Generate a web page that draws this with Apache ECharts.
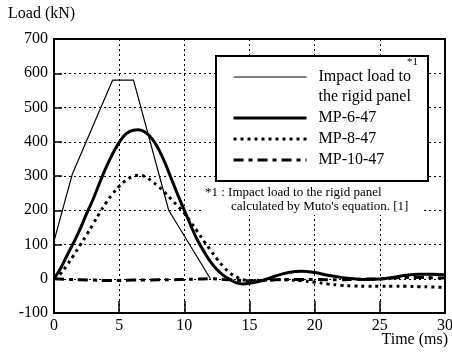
<!DOCTYPE html>
<html>
<head>
<meta charset="utf-8">
<script src="https://cdn.jsdelivr.net/npm/echarts@6/dist/echarts.min.js"></script>
<style>
  html, body { margin: 0; padding: 0; background: #fff; }
  #chart { width: 452px; height: 352px; }
</style>
</head>
<body>
<div id="chart"></div>
<script>
const FONT = '"Liberation Serif", "DejaVu Serif", serif';

// impact load to the rigid panel (Muto's equation), piecewise linear
const impactT = [0, 1.4, 4.5, 6.1, 8.8, 12.0];
const impactLoad = [110, 305, 580, 580, 200, 0];

const timeFine = [0, 0.5, 1, 1.5, 2, 2.5, 3, 3.5, 4, 4.5, 5, 5.5, 6, 6.5, 7, 7.5, 8, 8.5, 9, 9.5,
  10, 10.5, 11, 11.5, 12, 12.5, 13, 13.5, 14, 14.5, 15, 16, 17, 18, 19, 20, 21, 22, 23, 24, 25,
  26, 27, 28, 29, 30];
const mp6 = [0, 30, 68, 105, 145, 190, 232, 280, 325, 365, 398, 422, 433, 435, 428, 410, 380, 340,
  292, 245, 200, 155, 113, 80, 50, 27, 10, -2, -12, -15, -13, -5, 8, 18, 22, 18, 10, 4, 0, -2, -1,
  4, 10, 13, 13, 12];
const mp8 = [0, 15, 40, 68, 98, 128, 160, 192, 222, 248, 270, 287, 298, 302, 298, 285, 270, 252,
  232, 212, 192, 165, 138, 110, 84, 58, 35, 17, 5, -3, -5, -4, -3, -4, -6, -10, -15, -19, -21, -22,
  -22, -22, -22, -23, -24, -25];

const timeCoarse = [0, 1, 2, 3, 4, 5, 6, 7, 8, 9, 10, 11, 12, 13, 14, 15, 16, 17, 18, 19, 20,
  21, 22, 23, 24, 25, 26, 27, 28, 29, 30];
const mp10 = [0, -2, -3, -4, -5, -5, -4, -4, -3, -3, -2, -1, 0, -2, -4, -6, -5, -3, -2, -2, -2,
  -3, -3, -2, -1, 0, 2, 4, 4, 3, 2];

const names = ['Impact load to\nthe rigid panel', 'MP-6-47', 'MP-8-47', 'MP-10-47'];

const pairs = (xs, ys) => xs.map((x, i) => [x, ys[i]]);

const chart = echarts.init(document.getElementById('chart'));

chart.setOption({
  animation: false,
  textStyle: { fontFamily: FONT },
  grid: {
    left: 54, right: 7, top: 39, bottom: 39,
    containLabel: false, outerBoundsMode: 'none',
    show: true, borderColor: '#000', borderWidth: 2, backgroundColor: 'transparent'
  },
  xAxis: {
    type: 'value', min: 0, max: 30, interval: 5,
    axisLine: { onZero: false, lineStyle: { color: '#000', width: 2 } },
    axisTick: { inside: true, length: 12, lineStyle: { color: '#000', width: 1.5 } },
    axisLabel: { color: '#000', fontFamily: FONT, fontSize: 16, margin: 5 },
    splitLine: { show: true, lineStyle: { color: '#000', width: 1, type: [2, 3] } }
  },
  yAxis: {
    type: 'value', min: -100, max: 700, interval: 100,
    name: 'Load (kN)', nameLocation: 'end', nameGap: 17,
    nameTextStyle: { color: '#000', fontFamily: FONT, fontSize: 16, align: 'left', padding: [0, 0, 0, -46] },
    axisLine: { lineStyle: { color: '#000', width: 2 } },
    axisTick: { inside: true, length: 8, lineStyle: { color: '#000', width: 1.5 } },
    axisLabel: { color: '#000', fontFamily: FONT, fontSize: 16, margin: 6 },
    splitLine: { show: true, lineStyle: { color: '#000', width: 1, type: [2, 3] } }
  },
  legend: {
    orient: 'vertical', left: 232, top: 47, padding: 0, itemGap: 1,
    itemWidth: 73, itemHeight: 14,
    data: names,
    // a blank first line keeps the icon level with "Impact load to"
    formatter: n => (n.indexOf('\n') >= 0 ? '\n' + n : n),
    itemStyle: { opacity: 0 },
    lineStyle: { width: 'inherit' },
    textStyle: { color: '#000', fontFamily: FONT, fontSize: 16, lineHeight: 20, padding: [0, 0, 0, 7] },
    z: 6
  },
  graphic: { elements: [
    { type: 'rect', z: 5, shape: { x: 216, y: 56, width: 212, height: 125 },
      style: { fill: '#fff', stroke: '#000', lineWidth: 2 } },
    { type: 'text', z: 7, left: 407, top: 57,
      style: { text: '*1', fill: '#000', font: '11px ' + FONT } },
    { type: 'rect', z: 5, shape: { x: 203, y: 183, width: 220, height: 32 },
      style: { fill: '#fff' } },
    { type: 'text', z: 7, left: 205, top: 186,
      style: { text: '*1 : Impact load to the rigid panel', fill: '#000', font: '13px ' + FONT } },
    { type: 'text', z: 7, left: 231, top: 200,
      style: { text: 'calculated by Muto\'s equation. [1]', fill: '#000', font: '13px ' + FONT } },
    { type: 'text', z: 7, right: 4, top: 332,
      style: { text: 'Time (ms)', fill: '#000', font: '16px ' + FONT } }
  ] },
  series: [
    { name: names[0], type: 'line', symbol: 'none', data: pairs(impactT, impactLoad),
      itemStyle: { color: '#000' }, lineStyle: { color: '#000', width: 1.2, type: 'solid' } },
    { name: names[1], type: 'line', symbol: 'none', smooth: 0.4, data: pairs(timeFine, mp6),
      itemStyle: { color: '#000' }, lineStyle: { color: '#000', width: 3, type: 'solid' } },
    { name: names[2], type: 'line', symbol: 'none', smooth: 0.4, data: pairs(timeFine, mp8),
      itemStyle: { color: '#000' }, lineStyle: { color: '#000', width: 3, type: [3, 4] } },
    { name: names[3], type: 'line', symbol: 'none', smooth: 0.4, data: pairs(timeCoarse, mp10),
      itemStyle: { color: '#000' }, lineStyle: { color: '#000', width: 3, type: [10, 5, 4, 5] } }
  ]
});
</script>
</body>
</html>
